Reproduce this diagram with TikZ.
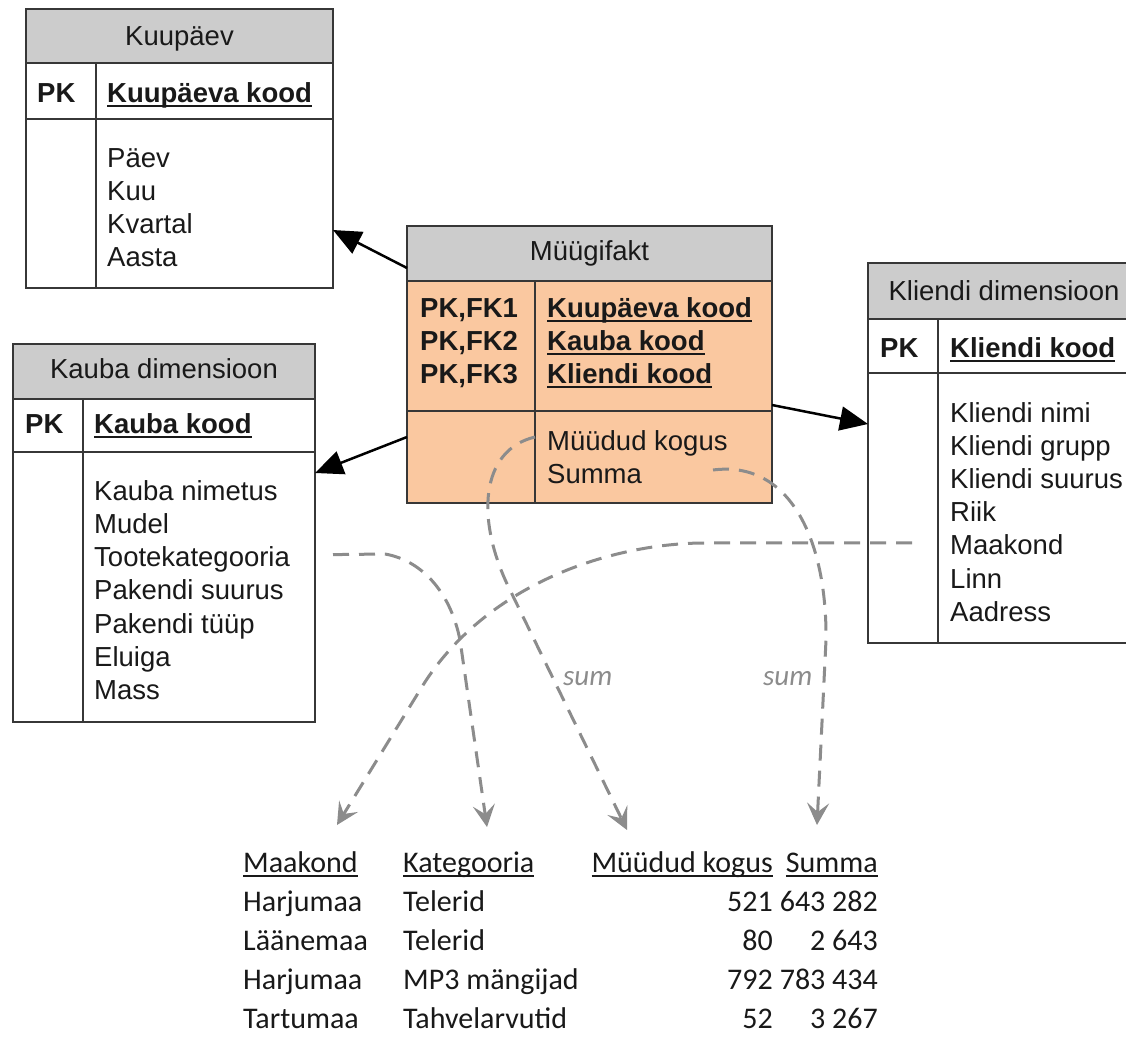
\documentclass[tikz,border=0pt]{standalone}
\usepackage{fontspec}
\setmainfont{Liberation Sans}
\newfontfamily\calibri{Carlito}
\usetikzlibrary{arrows.meta,calc}

\definecolor{hdrgray}{RGB}{204,204,204}
\definecolor{factfill}{RGB}{250,200,160}
\definecolor{edge}{RGB}{55,55,55}
\definecolor{ink}{RGB}{25,25,25}
\definecolor{flowgray}{RGB}{140,140,140}

% underlined key text with a solid rule just below the baseline
\newsavebox{\ulbox}
\newcommand{\ulin}[1]{\sbox{\ulbox}{#1}\rlap{\raisebox{-5pt}{\rule{\wd\ulbox}{1.8pt}}}\usebox{\ulbox}}

\tikzset{
  box/.style={draw=edge, line width=2pt, inner sep=0pt, outer sep=0pt, anchor=north west},
  sepline/.style={draw=edge, line width=2pt},
  colline/.style={draw=edge, line width=1.5pt},
  lbl/.style={inner sep=0pt, anchor=base west, text=ink, font=\fontsize{27.5}{33}\selectfont},
  ttl/.style={inner sep=0pt, anchor=base, text=ink, font=\fontsize{27.5}{33}\selectfont},
  pkey/.style={lbl, font=\fontsize{27.5}{33}\selectfont\bfseries},
  cell/.style={inner sep=0pt, anchor=base west, text=ink, font=\calibri\fontsize{30}{36}\selectfont},
  num/.style={cell, anchor=base east},
  fk/.style={draw=black, line width=2.5pt, -{Triangle[length=28pt,width=24pt]}},
  flow/.style={draw=flowgray, line width=3pt, dash pattern=on 16pt off 10pt,
    -{Stealth[length=22pt,width=22pt,inset=9pt]}},
  agg/.style={inner sep=0pt, anchor=base west, text=flowgray, font=\calibri\itshape\fontsize{29}{34}\selectfont},
}

\begin{document}
\begin{tikzpicture}[x=1pt,y=-1pt]
\useasboundingbox (0,0) rectangle (1126,1036);
\clip (0,0) rectangle (1126,1036);
\fill[white] (0,0) rectangle (1126,1036);

% --- Kuupäev dimension ---
\fill[hdrgray] (26,9) rectangle (333,63);
\node[box, minimum width=307pt, minimum height=279pt] (kuupaev) at (26,9) {};
\draw[sepline] (26,63) -- (333,63);
\draw[sepline] (26,119) -- (333,119);
\draw[colline] (96,63) -- (96,288);
\node[ttl] (kuupaev-t) at (179.5,45) {Kuupäev};
\node[pkey] (kuupaev-pk) at (37,102) {PK};
\node[pkey] (kuupaev-id) at (107,102) {\ulin{Kuupäeva kood}};
\foreach \t [count=\i] in {Päev,Kuu,Kvartal,Aasta}
  \node[lbl] (kuupaev-\i) at (107,{167+33*(\i-1)}) {\t};

% --- Müügifakt fact table ---
\fill[factfill] (407,226) rectangle (772,503);
\fill[hdrgray] (407,226) rectangle (772,281);
\node[box, minimum width=365pt, minimum height=277pt] (fact) at (407,226) {};
\draw[sepline] (407,281) -- (772,281);
\draw[sepline] (407,411) -- (772,411);
\draw[colline] (535,281) -- (535,503);
\node[ttl] (fact-t) at (589.5,260) {Müügifakt};
\foreach \k/\c [count=\i] in {1/Kuupäeva kood,2/Kauba kood,3/Kliendi kood} {
  \node[pkey] (fact-pk\i) at (420,{317+33*(\i-1)}) {PK,FK\k};
  \node[pkey] (fact-id\i) at (547,{317+33*(\i-1)}) {\ulin{\c}};
}
\node[lbl] (fact-qty) at (547,450) {Müüdud kogus};
\node[lbl] (fact-sum) at (547,483) {Summa};

% --- Kliendi dimensioon ---
\fill[hdrgray] (868,263) rectangle (1140,319);
\node[box, minimum width=272pt, minimum height=380pt] (klient) at (868,263) {};
\draw[sepline] (868,319) -- (1140,319);
\draw[sepline] (868,373) -- (1140,373);
\draw[colline] (938,319) -- (938,643);
\node[ttl] (klient-t) at (1004,300) {Kliendi dimensioon};
\node[pkey] (klient-pk) at (880,357) {PK};
\node[pkey] (klient-id) at (950,357) {\ulin{Kliendi kood}};
\foreach \t [count=\i] in {Kliendi nimi,Kliendi grupp,Kliendi suurus,Riik,Maakond,Linn,Aadress}
  \node[lbl] (klient-\i) at (950,{422+33.2*(\i-1)}) {\t};

% --- Kauba dimensioon ---
\fill[hdrgray] (13,344) rectangle (315,399);
\node[box, minimum width=302pt, minimum height=378pt] (kaup) at (13,344) {};
\draw[sepline] (13,399) -- (315,399);
\draw[sepline] (13,452) -- (315,452);
\draw[colline] (83,399) -- (83,722);
\node[ttl] (kaup-t) at (164,378) {Kauba dimensioon};
\node[pkey] (kaup-pk) at (25,433) {PK};
\node[pkey] (kaup-id) at (94,433) {\ulin{Kauba kood}};
\foreach \t [count=\i] in {Kauba nimetus,Mudel,Tootekategooria,Pakendi suurus,Pakendi tüüp,Eluiga,Mass}
  \node[lbl] (kaup-\i) at (94,{500+33.3*(\i-1)}) {\t};

% --- foreign key references ---
\draw[fk] (fact.west |- 0,268) -- (kuupaev.east |- 0,230);
\draw[fk] (fact.west |- 0,437) -- (kaup.east |- 0,473);
\draw[fk] (fact.east |- 0,405) -- (klient.west |- 0,424);

% --- query result ---
\node[cell] (h-maakond) at (243,872) {\ulin{Maakond}};
\node[cell] (h-kat) at (403,872) {\ulin{Kategooria}};
\node[num] (h-kogus) at (773,872) {\ulin{Müüdud kogus}};
\node[num] (h-summa) at (878,872) {\ulin{Summa}};
\foreach \m/\k/\q/\s [count=\i] in {Harjumaa/Telerid/521/643 282,Läänemaa/Telerid/80/2 643,Harjumaa/MP3 mängijad/792/783 434,Tartumaa/Tahvelarvutid/52/3 267} {
  \node[cell] (r\i-m) at (243,{872+39*\i}) {\m};
  \node[cell] (r\i-k) at (403,{872+39*\i}) {\k};
  \node[num] (r\i-q) at (773,{872+39*\i}) {\q};
  \node[num] (r\i-s) at (878,{872+39*\i}) {\s};
}

% --- aggregation flows ---
\coordinate (src-maakond) at ($(klient-5.base west)+(-38,-12)$);
\coordinate (src-kat) at ($(kaup-3.base west)+(239,-12)$);
\coordinate (src-kogus) at ($(fact-qty.base west)+(-12,-13)$);
\coordinate (src-summa) at ($(fact-sum.base west)+(166,-13)$);

\draw[flow] (src-maakond) -- (700,543) .. controls (600,545) and (480,590) .. (420,690)
  -- ($(h-maakond.base west)+(94,-47)$);
\draw[flow] (src-kat) -- (385,554) .. controls (420,560) and (450,590) .. (460,640)
  -- ($(h-kat.base west)+(84,-45)$);
\draw[flow] (src-kogus) .. controls (480,450) and (475,520) .. (510,590)
  -- ($(h-kogus.base east)+(-146,-42)$);
\draw[flow] (src-summa) .. controls (790,460) and (827,540) .. (826,640)
  -- ($(h-summa.base east)+(-61,-47)$);

\node[agg] (sum-qty) at (563,685) {sum};
\node[agg] (sum-amt) at (763,685) {sum};
\end{tikzpicture}
\end{document}
